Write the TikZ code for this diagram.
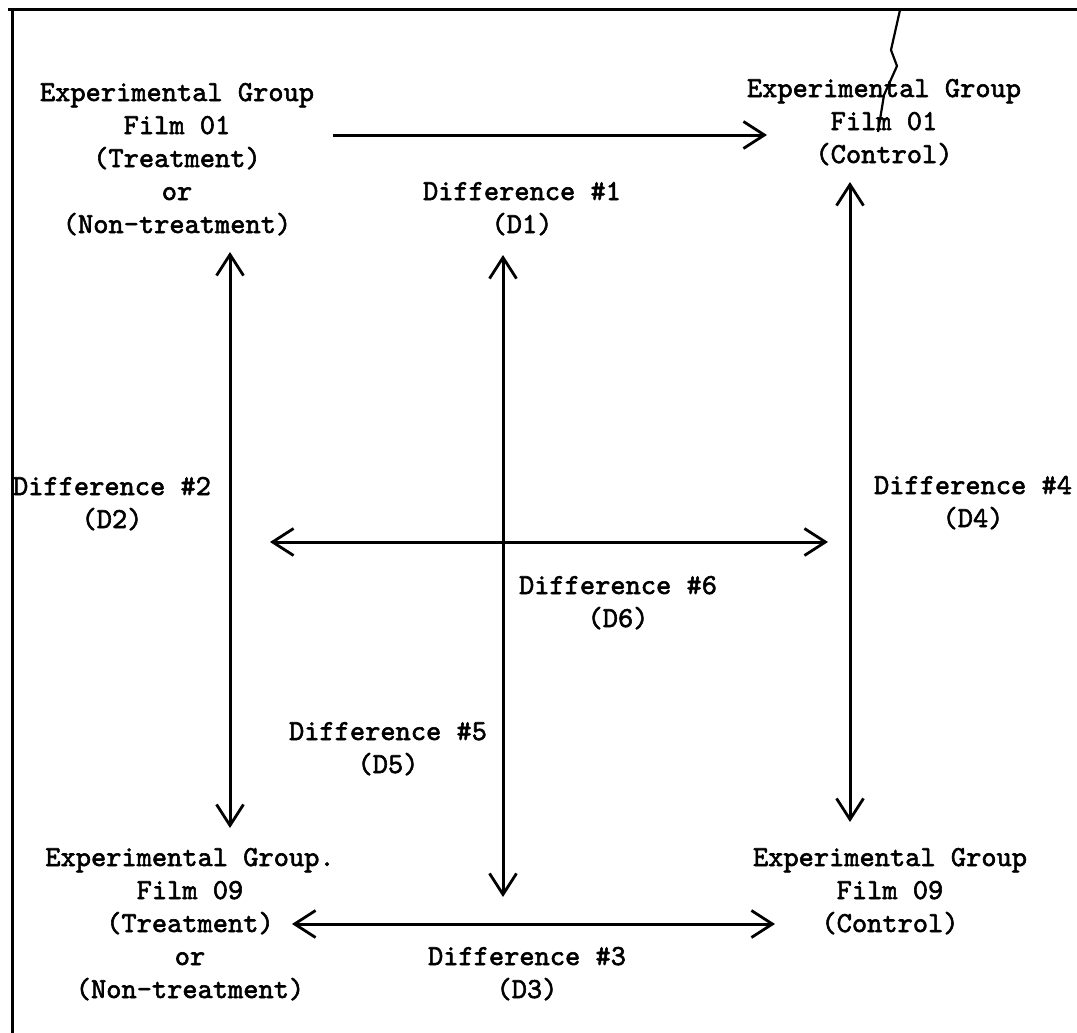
\documentclass[tikz,border=0pt]{standalone}
\usepackage{fontspec}
\newfontfamily\tw[FakeBold=2]{lmmono10-regular.otf}
\usetikzlibrary{arrows.meta}
\begin{document}
\begin{tikzpicture}[x=1pt,y=-1pt,
  lbl/.style={font=\tw\fontsize{29}{33}\selectfont, align=center, anchor=base, inner sep=0pt},
  conn/.style={line width=3pt, {Straight Barb[length=21pt,width=27pt,line width=2.8pt]}-{Straight Barb[length=21pt,width=27pt,line width=2.8pt]}},
  oneway/.style={line width=3pt, -{Straight Barb[length=21pt,width=27pt,line width=2.8pt]}},
  frame/.style={line width=3pt}]
\useasboundingbox (0,0) rectangle (1077,1033);
% frame
\coordinate (f0) at (8,10);
\coordinate (f1) at (1077,10);
\coordinate (f2) at (12,10);
\coordinate (f3) at (12,1033);
\draw[frame] (f0) -- (f1);
\draw[frame] (f2) -- (f3);
% crack in the scan
\draw[line width=2.2pt] (900,10) -- (891,50) -- (897,66) -- (884,95) -- (878,132);
% group nodes
\node[lbl] (tl) at (177,233) {Experimental Group\\Film 01\\(Treatment)\\or\\(Non-treatment)};
\node[lbl] (tr) at (884,163) {Experimental Group\\Film 01\\(Control)};
\node[lbl] (bl) at (190,998) {Experimental Group.\\Film 09\\(Treatment)\\or\\(Non-treatment)};
\node[lbl] (br) at (890,932) {Experimental Group\\Film 09\\(Control)};
% difference labels
\node[lbl] (d1) at (522,233) {Difference \#1\\(D1)};
\node[lbl] (d2) at (112,528) {Difference \#2\\(D2)};
\node[lbl] (d3) at (527,998) {Difference \#3\\(D3)};
\node[lbl] (d4) at (973,527) {Difference \#4\\(D4)};
\node[lbl] (d5) at (388,773) {Difference \#5\\(D5)};
\node[lbl] (d6) at (618,627) {Difference \#6\\(D6)};
% connector ends
\coordinate (ta) at (333,135);
\coordinate (tb) at (767,135);
\coordinate (la) at (230,252);
\coordinate (lb) at (230,828);
\coordinate (ca) at (503,255);
\coordinate (cb) at (503,897);
\coordinate (ra) at (850,182);
\coordinate (rb) at (850,822);
\coordinate (ma) at (270,542);
\coordinate (mb) at (828,542);
\coordinate (ba) at (292,924);
\coordinate (bb) at (775,924);
% connectors
\draw[oneway] (ta) -- (tb);
\draw[conn] (la) -- (lb);
\draw[conn] (ca) -- (cb);
\draw[conn] (ra) -- (rb);
\draw[conn] (ma) -- (mb);
\draw[conn] (ba) -- (bb);
\end{tikzpicture}
\end{document}
